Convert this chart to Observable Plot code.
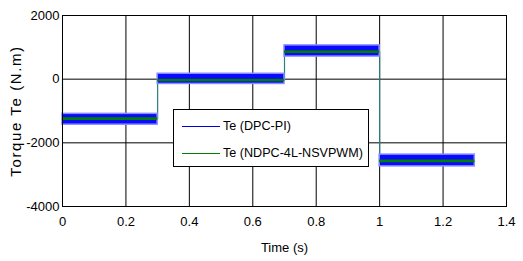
<!DOCTYPE html>
<html>
<head>
<meta charset="utf-8">
<script src="https://cdn.jsdelivr.net/npm/d3@7"></script>
<script src="https://cdn.jsdelivr.net/npm/@observablehq/plot@0.6"></script>
<style>
  html, body { margin: 0; padding: 0; background: #fff; }
  #wrap { position: relative; width: 523px; height: 261px; font-family: "Liberation Sans", Arial, sans-serif; }
  #legend { position: absolute; left: 173px; top: 109px; width: 194px; height: 56px; border: 1px solid #000; background: #fff; font-size: 12.6px; color: #000; }
  .row { position: absolute; left: 0; height: 14px; display: flex; align-items: center; white-space: nowrap; }
  .sw { display: inline-block; width: 38px; height: 0; margin-left: 8px; margin-right: 3px; }
</style>
</head>
<body>
<div id="wrap"></div>
<script>
// Segment data
const segStart = [0, 0.3, 0.7, 1.0];
const segEnd   = [0.3, 0.7, 1.0, 1.3];
const blueHi   = [-1090, 170, 1060, -2370];
const blueLo   = [-1430, -150, 710, -2740];
const greenHi  = [-1210, -5, 890, -2540];
const greenLo  = [-1300, -85, 805, -2625];
// Step reference trajectory (transitions)
const stepT = [0, 0, 0.3, 0.7, 1.0, 1.3];
const stepV = [0, -1250, -40, 850, -2580, -2580];
// Ticks
const xTicks = [0, 0.2, 0.4, 0.6, 0.8, 1, 1.2, 1.4];
const yTicks = [-4000, -2000, 0, 2000];
const seriesNames = ["Te (DPC-PI)", "Te (NDPC-4L-NSVPWM)"];
const seriesColors = ["#0000e0", "#007f00"];

const segs = segStart.map((s, i) => ({x1: s, x2: segEnd[i], bh: blueHi[i], bl: blueLo[i], gh: greenHi[i], gl: greenLo[i]}));
const steps = stepT.map((t, i) => ({t, v: stepV[i]}));

const chart = Plot.plot({
  width: 523,
  height: 261,
  marginLeft: 62,
  marginRight: 17,
  marginTop: 15,
  marginBottom: 55,
  style: {fontFamily: "'Liberation Sans', Arial, sans-serif", fontSize: "13px", color: "#000", background: "#fff"},
  x: {domain: [0, 1.4]},
  y: {domain: [-4000, 2000]},
  marks: [
    Plot.gridX(xTicks, {stroke: "#000", strokeOpacity: 1, strokeWidth: 1}),
    Plot.gridY(yTicks, {stroke: "#000", strokeOpacity: 1, strokeWidth: 1}),
    Plot.line(steps, {x: "t", y: "v", curve: "step-after", stroke: "#2a7f80", strokeWidth: 1.2}),
    Plot.rect(segs, {x1: "x1", x2: "x2", y1: "bl", y2: "bh", fill: "#0a0aff", stroke: "#8c8cff", strokeWidth: 1.5}),
    Plot.rect(segs, {x1: "x1", x2: "x2", y1: "gl", y2: "gh", fill: seriesColors[1]}),
    Plot.frame({stroke: "#000", strokeWidth: 1}),
    Plot.axisX(xTicks, {tickSize: 0, tickPadding: 10, tickFormat: d => String(d), fontSize: 13,
      label: "Time (s)", labelAnchor: "center", labelOffset: 45, labelArrow: "none"}),
    Plot.axisY(yTicks, {tickSize: 0, tickPadding: 3, tickFormat: d => String(d), fontSize: 13,
      label: "Torque Te (N.m)", labelAnchor: "center", labelOffset: 52, labelArrow: "none"})
  ]
});

const wrap = document.getElementById("wrap");
wrap.appendChild(chart);

// Style the axis labels
d3.select(chart).selectAll('[aria-label="y-axis label"] text')
  .style("font-size", "15px").style("letter-spacing", "1.6px");
d3.select(chart).selectAll('[aria-label="x-axis label"] text')
  .style("font-size", "13px");

// Legend
const legend = document.createElement("div");
legend.id = "legend";
seriesNames.forEach((name, i) => {
  const row = document.createElement("div");
  row.className = "row";
  row.style.top = (i === 0 ? 9 : 36) + "px";
  const sw = document.createElement("span");
  sw.className = "sw";
  sw.style.borderTop = "1.5px solid " + seriesColors[i];
  const tx = document.createElement("span");
  tx.textContent = name;
  row.appendChild(sw);
  row.appendChild(tx);
  legend.appendChild(row);
});
wrap.appendChild(legend);
</script>
</body>
</html>
